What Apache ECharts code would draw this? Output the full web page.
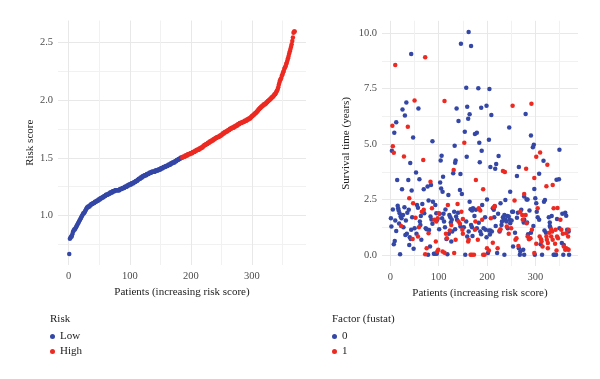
<!DOCTYPE html>
<html>
<head>
<meta charset="utf-8">
<script src="https://cdn.jsdelivr.net/npm/echarts@6/dist/echarts.min.js"></script>
<style>
html,body{margin:0;padding:0;background:#fff;}
#chart{width:600px;height:379px;}
</style>
</head>
<body>
<div id="chart"></div>
<script>
// ---- Data ----
// Risk score of patients sorted by increasing risk (patients 1..370)
const riskScore = [
0.67,0.80,0.81,0.82,0.82,0.84,0.86,0.87,0.88,0.88,
0.89,0.90,0.91,0.92,0.93,0.94,0.95,0.96,0.97,0.98,
0.99,1.00,1.01,1.02,1.02,1.03,1.04,1.05,1.06,1.07,
1.07,1.08,1.08,1.08,1.09,1.09,1.10,1.10,1.10,1.11,
1.11,1.11,1.12,1.12,1.12,1.13,1.13,1.13,1.14,1.14,
1.14,1.15,1.15,1.15,1.16,1.16,1.16,1.17,1.17,1.17,
1.18,1.18,1.18,1.18,1.19,1.19,1.19,1.20,1.20,1.20,
1.20,1.21,1.21,1.21,1.21,1.22,1.22,1.22,1.22,1.22,
1.22,1.22,1.22,1.23,1.23,1.23,1.23,1.24,1.24,1.24,
1.24,1.25,1.25,1.25,1.25,1.26,1.26,1.26,1.27,1.27,
1.27,1.27,1.28,1.28,1.28,1.28,1.29,1.29,1.29,1.30,
1.30,1.30,1.31,1.31,1.32,1.32,1.32,1.33,1.33,1.33,
1.34,1.34,1.34,1.35,1.35,1.35,1.35,1.36,1.36,1.36,
1.36,1.37,1.37,1.37,1.37,1.38,1.38,1.38,1.38,1.38,
1.38,1.39,1.39,1.39,1.39,1.39,1.40,1.40,1.40,1.40,
1.41,1.41,1.41,1.41,1.42,1.42,1.42,1.42,1.43,1.43,
1.43,1.43,1.44,1.44,1.44,1.44,1.45,1.45,1.45,1.46,
1.46,1.46,1.46,1.47,1.47,1.47,1.48,1.48,1.48,1.49,
1.49,1.49,1.50,1.50,1.50,1.50,1.51,1.51,1.51,1.51,
1.52,1.52,1.52,1.52,1.53,1.53,1.53,1.53,1.54,1.54,
1.54,1.54,1.55,1.55,1.55,1.55,1.56,1.56,1.56,1.57,
1.57,1.57,1.57,1.58,1.58,1.58,1.59,1.59,1.59,1.60,
1.60,1.61,1.61,1.61,1.62,1.62,1.62,1.63,1.63,1.63,
1.64,1.64,1.64,1.65,1.65,1.65,1.66,1.66,1.66,1.67,
1.67,1.67,1.68,1.68,1.68,1.68,1.69,1.69,1.69,1.70,
1.70,1.71,1.71,1.71,1.72,1.72,1.72,1.73,1.73,1.73,
1.74,1.74,1.74,1.75,1.75,1.75,1.76,1.76,1.76,1.76,
1.77,1.77,1.77,1.78,1.78,1.78,1.79,1.79,1.79,1.80,
1.80,1.80,1.80,1.81,1.81,1.81,1.81,1.82,1.82,1.82,
1.82,1.83,1.83,1.83,1.84,1.84,1.84,1.85,1.85,1.86,
1.86,1.87,1.87,1.88,1.88,1.89,1.89,1.90,1.90,1.91,
1.92,1.92,1.93,1.93,1.94,1.94,1.95,1.95,1.96,1.96,
1.96,1.97,1.97,1.98,1.98,1.99,1.99,2.00,2.00,2.01,
2.01,2.02,2.02,2.03,2.03,2.04,2.05,2.05,2.06,2.07,
2.08,2.09,2.11,2.13,2.15,2.17,2.18,2.19,2.21,2.22,
2.24,2.25,2.27,2.28,2.29,2.31,2.32,2.34,2.36,2.38,
2.40,2.42,2.44,2.46,2.48,2.51,2.54,2.58,2.59,2.59
];
const lowRiskCount = 185;   // patients 1..185 are "Low", the rest "High"
const riskGroups = ['Low', 'High'];

// Survival time (years) by patient rank, split by fustat
const fustat0 = [
[162,10.06],[146,9.53],[167,9.43],[43,9.07],[157,7.54],[182,7.52],[205,7.48],[33,6.88],[25,6.56],[58,6.61],
[137,6.61],[159,6.68],[188,6.64],[199,6.73],[30,6.29],[164,6.35],[209,6.31],[280,6.36],[161,6.14],[141,6.04],
[12,5.99],[8,5.51],[154,5.56],[175,5.45],[179,5.51],[246,5.75],[47,5.30],[291,5.39],[87,5.13],[204,5.19],
[133,4.92],[184,5.06],[297,4.97],[295,4.86],[3,4.70],[189,4.70],[350,4.74],[41,4.14],[106,4.47],[104,4.26],
[135,4.26],[134,4.16],[158,4.43],[185,4.18],[224,4.46],[317,4.25],[207,3.96],[217,3.89],[219,4.10],[266,3.96],
[53,3.72],[130,3.68],[145,3.65],[109,3.53],[308,3.66],[262,3.56],[60,3.41],[37,3.38],[14,3.38],[344,3.39],
[349,3.41],
[1,1.65],[2,1.28],[7,0.48],[9,0.63],[15,2.22],[16,2.10],[17,2.00],[19,1.88],[12,1.08],[21,1.73],
[23,1.65],[26,1.80],[20,0.03],[27,1.25],[24,2.96],[32,1.55],[35,1.90],[34,0.95],[38,2.03],[40,0.80],
[42,0.71],[39,0.45],[44,2.90],[43,1.13],[48,0.27],[55,2.25],[57,2.13],[61,1.50],[62,1.35],[64,0.68],
[69,2.96],[70,1.88],[73,1.20],[75,1.15],[77,3.08],[79,2.45],[78,0.00],[84,3.15],[83,1.73],[85,1.60],
[82,0.38],[88,2.40],[90,0.05],[92,0.05],[96,0.05],[93,2.25],[95,1.88],[97,1.58],[103,3.26],[105,3.00],
[108,2.85],[102,1.85],[110,1.85],[111,1.50],[113,1.25],[116,0.72],[118,0.03],[120,2.70],[122,1.80],[124,1.70],
[125,1.46],[127,1.58],[126,0.60],[132,1.95],[136,1.73],[134,1.16],[138,1.58],[144,2.93],[148,2.75],[145,1.28],
[155,0.00],[159,0.83],[162,1.05],[166,2.06],[169,2.00],[171,2.10],[167,1.35],[169,1.25],[174,1.75],[177,2.03],
[179,1.20],[186,1.05],[188,0.93],[190,2.25],[193,1.20],[197,1.13],[199,0.80],[200,2.50],[202,0.08],[204,1.10],
[207,1.10],[210,1.05],[212,2.10],[214,2.03],[216,2.18],[215,1.70],[221,0.08],[226,1.05],[230,1.35],[231,1.50],
[228,2.33],[233,1.70],[236,1.80],[238,1.58],[240,1.50],[238,2.48],[236,0.00],[245,1.73],[247,1.58],[248,1.43],
[248,2.85],[252,1.95],[254,1.95],[254,0.38],[262,1.68],[266,0.30],[268,0.00],[269,0.15],[271,2.03],[275,0.23],
[277,0.00],[276,1.46],[277,1.60],[277,2.63],[282,2.50],[284,2.50],[283,1.46],[285,0.93],[291,1.00],[299,0.00],
[298,2.97],[300,2.55],[302,2.33],[305,1.70],[308,1.58],[311,0.48],[314,0.00],[318,2.40],[320,2.48],[322,1.00],
[328,1.70],[330,1.46],[330,1.30],[331,1.25],[338,0.00],[340,0.00],[343,0.00],[345,1.62],[355,0.53],[359,0.45],
[362,1.90],[364,1.76],[358,0.00],[366,1.13],[369,1.05],[370,0.00],
[5,2.05],[10,1.55],[18,1.42],[29,2.15],[31,0.90],[45,1.70],[50,1.20],[54,0.95],[63,1.75],[66,2.30],
[80,1.12],[87,1.40],[101,1.15],[107,1.65],[114,2.05],[121,0.95],[128,1.05],[140,1.90],[152,1.25],[157,1.50],
[164,2.40],[170,0.85],[183,1.45],[196,1.70],[206,0.92],[218,1.30],[223,1.85],[235,1.62],[242,1.75],[243,1.20],
[251,1.55],[258,1.00],[264,1.90],[288,2.00],[296,1.30],[303,1.95],[319,1.10],[334,1.75],[350,1.20],[356,1.85]
];
const fustat1 = [
[72,8.92],[10,8.57],[50,6.97],[112,6.94],[292,6.82],[253,6.73],[4,5.83],[36,5.78],[5,4.90],[7,4.61],
[153,5.06],[28,4.44],[68,4.28],[131,3.83],[177,3.38],[310,4.62],[302,4.43],[325,4.07],[233,3.78],[237,3.74],
[281,3.89],[298,3.47],
[39,2.55],[47,2.33],[46,0.71],[52,1.68],[57,0.83],[59,1.25],[69,2.03],[75,0.30],[72,0.03],[79,0.98],
[83,3.30],[86,2.10],[91,1.58],[95,1.50],[98,1.65],[100,1.88],[97,0.15],[99,0.23],[108,0.15],[112,0.10],
[115,0.95],[117,0.75],[119,2.25],[126,1.35],[135,0.68],[132,0.08],[139,2.30],[141,1.50],[144,1.40],[149,1.13],
[150,0.95],[150,1.62],[161,0.60],[162,0.68],[166,0.00],[169,0.00],[173,0.00],[176,1.50],[175,1.13],[181,0.68],
[186,2.00],[190,1.58],[192,2.96],[192,0.00],[195,0.00],[200,0.30],[204,0.20],[208,1.65],[214,2.15],[216,2.20],
[222,0.30],[226,1.10],[228,1.16],[241,1.28],[250,1.20],[257,2.45],[259,0.68],[261,0.75],[269,1.95],[273,1.80],
[274,1.58],[277,2.75],[282,1.43],[284,0.83],[287,0.70],[290,0.75],[293,1.13],[298,0.08],[302,0.50],[309,0.83],
[312,0.70],[313,0.60],[315,0.38],[323,3.10],[323,0.83],[324,0.68],[326,0.53],[326,0.30],[333,1.13],[335,1.05],
[333,0.83],[336,0.68],[336,3.15],[338,2.10],[346,2.12],[342,1.13],[345,0.83],[347,0.75],[344,0.20],[352,1.58],
[354,1.13],[359,0.38],[362,0.23],[364,0.30],[367,0.25],[369,0.23],[364,0.98],[368,0.83],[369,1.13],
[22,1.30],[65,1.95],[94,0.60],[123,1.10],[147,1.95],[183,2.10],[212,0.55],[245,0.95],[265,0.40],[280,1.80],
[305,2.10],[329,1.00],[341,0.50],[357,0.95]
];
const fustatLevels = ['0', '1'];

// Axis ticks (major labels) and grid lines (major + minor)
const patientTicks = [0, 100, 200, 300];
const patientGrid = [0, 50, 100, 150, 200, 250, 300, 350];
const riskTicks = [1.0, 1.5, 2.0, 2.5];
const riskGrid = [0.75, 1.0, 1.25, 1.5, 1.75, 2.0, 2.25, 2.5];
const survTicks = [0, 2.5, 5, 7.5, 10];
const survGrid = [0, 1.25, 2.5, 3.75, 5, 6.25, 7.5, 8.75, 10];

// ---- Build ----
const BLUE = '#3447a6';
const RED = '#ec2a22';
const FONT = '"Liberation Serif", "DejaVu Serif", serif';

const lowData = [], highData = [];
riskScore.forEach((v, i) => {
  (i < lowRiskCount ? lowData : highData).push([i + 1, v]);
});

function expand(lo, hi) { const d = (hi - lo) * 0.05; return [lo - d, hi + d]; }
const n = riskScore.length;
const xr = expand(1, n);
const rr = expand(Math.min(...riskScore), Math.max(...riskScore));
const allSurv = fustat0.concat(fustat1).map(p => p[1]);
const sr = expand(Math.min(...allSurv), Math.max(...allSurv));

function xAxisCfg(gridIndex) {
  return {
    type: 'value', gridIndex, min: xr[0], max: xr[1],
    name: 'Patients (increasing risk score)', nameLocation: 'middle', nameGap: 22,
    nameTextStyle: { fontFamily: FONT, fontSize: 11, color: '#222' },
    axisLine: { show: false },
    axisTick: { show: false, customValues: patientGrid },
    axisLabel: { customValues: patientTicks, fontFamily: FONT, fontSize: 10.5, color: '#4d4d4d', margin: 6 },
    splitLine: { show: true, lineStyle: { color: ['#e8e8e8', '#f1f1f1'], width: 1 } }
  };
}
function yAxisCfg(gridIndex, range, grid, ticks, name, gap) {
  return {
    type: 'value', gridIndex, min: range[0], max: range[1],
    name, nameLocation: 'middle', nameGap: gap, nameRotate: 90,
    nameTextStyle: { fontFamily: FONT, fontSize: 11, color: '#222' },
    axisLine: { show: false },
    axisTick: { show: false, customValues: grid },
    axisLabel: { customValues: ticks, fontFamily: FONT, fontSize: 10.5, color: '#4d4d4d', margin: 5,
      formatter: v => Number(v).toFixed(1) },
    splitLine: { show: true, lineStyle: { color: grid[0] === 0 ? ['#e8e8e8', '#f1f1f1'] : ['#f1f1f1', '#e8e8e8'], width: 1 } }
  };
}

const chart = echarts.init(document.getElementById('chart'), null, { renderer: 'canvas' });
chart.setOption({
  animation: false,
  backgroundColor: '#fff',
  textStyle: { fontFamily: FONT },
  title: [
    { text: 'Risk', left: 50, top: 314, padding: 0, textStyle: { fontFamily: FONT, fontSize: 11, fontWeight: 'normal', color: '#222' } },
    { text: 'Factor (fustat)', left: 332, top: 314, padding: 0, textStyle: { fontFamily: FONT, fontSize: 11, fontWeight: 'normal', color: '#222' } }
  ],
  legend: [
    { data: riskGroups, orient: 'vertical', left: 50, top: 330, padding: 0, itemGap: 2, itemWidth: 5, itemHeight: 5,
      icon: 'circle', textStyle: { fontFamily: FONT, fontSize: 11, color: '#222', lineHeight: 13 } },
    { data: fustatLevels, orient: 'vertical', left: 332, top: 330, padding: 0, itemGap: 2, itemWidth: 5, itemHeight: 5,
      icon: 'circle', textStyle: { fontFamily: FONT, fontSize: 11, color: '#222', lineHeight: 13 } }
  ],
  grid: [
    { left: 58, right: 294, top: 20.5, bottom: 114, containLabel: false },
    { left: 382, right: 22, top: 20.8, bottom: 113, containLabel: false }
  ],
  xAxis: [xAxisCfg(0), xAxisCfg(1)],
  yAxis: [
    yAxisCfg(0, rr, riskGrid, riskTicks, 'Risk score', 22),
    yAxisCfg(1, sr, survGrid, survTicks, 'Survival time (years)', 30)
  ],
  series: [
    { name: 'Low', type: 'scatter', xAxisIndex: 0, yAxisIndex: 0, data: lowData, symbolSize: 4.5, itemStyle: { color: BLUE, opacity: 1 } },
    { name: 'High', type: 'scatter', xAxisIndex: 0, yAxisIndex: 0, data: highData, symbolSize: 4.5, itemStyle: { color: RED, opacity: 1 } },
    { name: '0', type: 'scatter', xAxisIndex: 1, yAxisIndex: 1, data: fustat0, symbolSize: 4.5, itemStyle: { color: BLUE, opacity: 1 } },
    { name: '1', type: 'scatter', xAxisIndex: 1, yAxisIndex: 1, data: fustat1, symbolSize: 4.5, itemStyle: { color: RED, opacity: 1 } }
  ]
});
</script>
</body>
</html>
